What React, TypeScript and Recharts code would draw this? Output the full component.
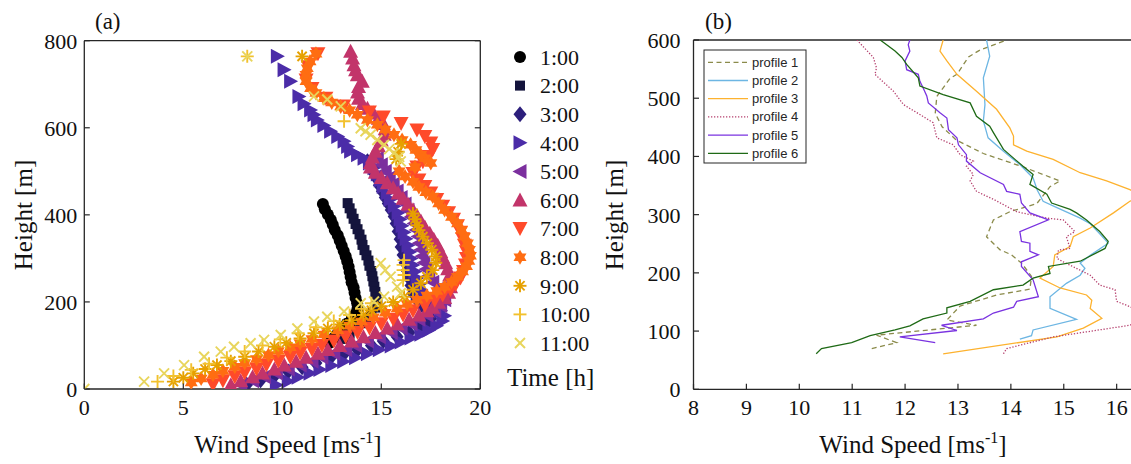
import React from 'react';
import { ScatterChart, Scatter, XAxis, YAxis } from 'recharts';

type Pair = [number, number]; // [height m, wind speed m/s]

// ---------- panel (a): lidar profiles per hour ----------
const hourLabels = ['1:00', '2:00', '3:00', '4:00', '5:00', '6:00', '7:00', '8:00', '9:00', '10:00', '11:00'];

const t01: Pair[] = [[425,12.05],[413,12.15],[401,12.3],[389,12.45],[377,12.55],[365,12.65],[353,12.8],[341,12.9],[329,13.0],[317,13.1],[305,13.2],[293,13.28],[281,13.35],[269,13.4],[257,13.45],[245,13.5],[233,13.6],[221,13.65],[209,13.7],[197,13.78],[185,13.8],[173,13.7],[161,13.5],[150,13.25],[139,13.05],[128,12.8],[117,12.6],[106,12.4]];
const t02: Pair[] = [[427,13.3],[415,13.4],[403,13.5],[391,13.6],[379,13.7],[367,13.8],[355,13.9],[343,14.0],[331,14.05],[319,14.15],[307,14.25],[295,14.35],[283,14.4],[271,14.5],[259,14.55],[247,14.6],[235,14.65],[223,14.7],[211,14.75],[199,14.8],[187,14.7],[175,14.5],[163,14.25],[151,14.0],[139,13.7],[127,13.4],[115,13.1]];
const t03: Pair[] = [[10,8.2],[20,8.9],[30,9.6],[40,10.3],[50,11.0],[60,11.7],[70,12.4],[80,13.1],[90,13.8],[100,14.5],[110,15.1],[120,15.8],[130,16.4],[140,16.9],[150,17.3],[162,17.5],[175,17.4],[190,17.1],[205,16.8],[220,16.6],[238,16.5],[255,16.4],[272,16.3],[290,16.2],[308,16.1],[326,16.0],[344,15.95],[362,15.85],[380,15.75],[396,15.65],[411,15.5],[426,15.35],[440,15.2],[454,15.05],[468,14.9],[482,14.8],[495,14.65],[509,14.5],[523,14.3]];
const t04: Pair[] = [[9,9.7],[18,10.3],[27,10.8],[36,11.4],[45,11.9],[54,12.5],[63,13.1],[72,13.7],[81,14.3],[90,14.9],[99,15.5],[108,16.0],[117,16.5],[126,17.0],[135,17.4],[145,17.8],[156,18.1],[168,18.2],[180,18.0],[192,17.7],[204,17.4],[216,17.2],[228,17.0],[240,16.9],[255,16.8],[270,16.7],[285,16.6],[300,16.5],[315,16.45],[330,16.35],[345,16.25],[360,16.15],[375,16.05],[390,15.95],[405,15.85],[420,15.65],[435,15.45],[450,15.3],[465,15.1],[480,14.95],[494,14.8],[508,14.63],[519,14.4],[530,14.13],[538,13.8],[546,13.45],[557,13.3],[569,13.12],[580,12.8],[592,12.44],[605,12.1],[618,11.77],[630,11.6],[641,11.43],[655,11.1],[672,10.84],[707,10.42],[733,10.09],[764,9.75]];
const t05: Pair[] = [[10,7.9],[19,8.5],[28,9.1],[37,9.7],[46,10.3],[55,10.9],[64,11.5],[73,12.0],[82,12.6],[91,13.2],[100,13.7],[110,14.3],[120,14.9],[130,15.5],[140,16.0],[150,16.5],[160,16.9],[170,17.3],[180,17.7],[192,18.0],[205,18.2],[218,18.1],[231,17.9],[245,17.6],[260,17.4],[275,17.25],[290,17.15],[305,17.05],[320,17.0],[335,16.9],[350,16.85],[365,16.75],[380,16.65],[395,16.5],[410,16.35],[425,16.2],[440,16.0],[455,15.8],[470,15.6],[485,15.4],[500,15.2],[515,15.0],[530,14.8]];
const t06: Pair[] = [[10,7.4],[19,7.9],[28,8.5],[37,9.0],[46,9.6],[55,10.1],[64,10.7],[73,11.2],[82,11.8],[91,12.3],[100,12.9],[110,13.5],[120,14.1],[130,14.7],[140,15.3],[150,15.8],[160,16.4],[170,16.9],[180,17.3],[188,17.6],[199,17.9],[210,18.2],[222,18.4],[235,18.5],[248,18.5],[262,18.45],[276,18.35],[290,18.25],[304,18.1],[316,18.0],[330,17.85],[344,17.65],[358,17.45],[372,17.2],[386,17.0],[399,16.8],[412,16.6],[425,16.35],[438,16.1],[450,15.85],[462,15.6],[474,15.3],[486,15.0],[498,14.7],[510,14.45],[520,14.45],[533,14.55],[546,14.7],[559,14.85],[572,15.0],[585,15.15],[598,15.2],[610,15.1],[622,14.85],[634,14.6],[645,14.3],[656,14.05],[668,13.85],[682,13.8],[695,13.85],[707,14.04],[722,13.79],[733,13.7],[745,13.62],[760,13.55],[776,13.45]];
const t07: Pair[] = [[10,6.5],[19,7.0],[28,7.6],[37,8.1],[46,8.7],[55,9.2],[64,9.8],[73,10.4],[82,10.9],[91,11.5],[100,12.0],[110,12.6],[120,13.2],[130,13.8],[140,14.4],[150,15.0],[160,15.6],[170,16.1],[180,16.6],[192,17.2],[204,17.7],[216,18.1],[228,18.5],[240,18.75],[255,19.0],[270,19.15],[285,19.25],[300,19.3],[315,19.3],[330,19.2],[345,19.1],[360,19.0],[375,18.85],[390,18.65],[405,18.4],[420,18.1],[435,17.8],[450,17.5],[465,17.2],[480,16.9],[495,16.6],[510,16.8],[522,17.1],[534,17.4],[550,17.6],[565,17.5],[580,17.2],[595,16.8],[610,16.0],[625,15.1],[636,14.4],[650,13.1],[668,12.2],[690,11.5],[710,11.2],[740,11.3],[770,11.8]];
const t08: Pair[] = [[15,5.4],[24,5.9],[33,6.5],[42,7.0],[51,7.6],[60,8.1],[69,8.7],[78,9.3],[87,9.8],[96,10.4],[105,10.9],[115,11.5],[125,12.1],[135,12.8],[145,13.4],[155,14.0],[165,14.6],[175,15.2],[185,15.8],[195,16.3],[205,16.8],[215,17.3],[225,17.8],[235,18.2],[246,18.55],[258,18.85],[270,19.1],[282,19.3],[294,19.42],[306,19.5],[320,19.45],[335,19.35],[350,19.2],[365,19.05],[380,18.85],[395,18.55],[411,18.2],[426,17.9],[442,17.6],[452,17.25],[464,16.9],[476,16.6],[488,16.2],[500,15.9],[510,16.7],[519,17.5],[530,17.2],[538,16.99],[549,16.75],[561,16.48],[572,16.05],[584,15.64],[596,15.2],[607,14.8],[618,14.3],[630,13.79],[640,13.4],[649,12.95],[658,12.5],[668,12.1],[680,11.7],[691,11.43],[707,11.2],[722,11.2],[737,11.26],[752,11.4],[770,11.7]];
const t09: Pair[] = [[17,4.5],[26,5.0],[36,5.5],[46,6.1],[55,6.7],[64,7.4],[74,8.1],[86,8.8],[97,9.6],[106,10.2],[116,10.9],[128,11.6],[139,12.3],[148,12.9],[158,13.5],[170,14.1],[181,14.5],[190,15.0],[200,15.6],[212,16.15],[228,16.6],[243,17.0],[258,17.3],[273,17.6],[290,17.75],[304,17.75],[320,17.55],[335,17.33],[350,17.1],[365,16.9],[376,16.8],[390,16.7],[403,16.6],[528,15.75],[545,15.85],[563,16.0],[764,11.0]];
const t10: Pair[] = [[17,3.7],[30,4.5],[44,5.4],[58,6.3],[72,7.2],[86,8.1],[100,9.0],[114,9.9],[128,10.8],[142,11.7],[156,12.6],[170,13.4],[184,14.0],[197,14.5],[250,16.1],[262,16.15],[273,16.1],[285,16.1],[296,16.15],[615,13.12],[764,8.23]];
const t11: Pair[] = [[0,0],[17,3.02],[36,4.03],[55,5.04],[74,6.05],[86,6.89],[97,7.56],[105,8.4],[113,9.08],[124,9.92],[139,10.76],[155,11.6],[166,12.27],[178,13.12],[197,13.96],[201,14.63],[212,15.14],[220,15.98],[235,15.8],[258,15.47],[273,15.2],[289,14.97],[523,15.98],[533,15.9],[542,15.64],[551,15.4],[561,15.14],[572,14.8],[584,14.46],[592,14.2],[599,13.96],[649,12.95],[665,12.27],[672,11.6],[764,8.23]];

const hourData = [t01, t02, t03, t04, t05, t06, t07, t08, t09, t10, t11];

// ---------- panel (b): six profiles ----------
const profileLabels = ['profile 1', 'profile 2', 'profile 3', 'profile 4', 'profile 5', 'profile 6'];

const p1: Pair[] = [[70,11.37],[80,11.84],[93,11.46],[110,13.35],[119,12.79],[143,13.04],[162,13.73],[172,14.36],[194,14.39],[217,14.2],[231,14.01],[240,13.79],[262,13.54],[291,13.67],[305,13.98],[319,14.49],[348,14.74],[358,14.93],[382,14.23],[405,13.48],[428,12.97],[451,12.7],[474,12.57],[503,12.6],[534,12.85],[541,12.98],[571,13.2],[583,13.42],[600,13.92]];
const p2: Pair[] = [[86,14.17],[92,14.39],[102,14.42],[120,15.24],[139,14.74],[159,14.74],[182,15.05],[196,15.31],[208,15.4],[217,15.31],[230,15.5],[251,15.84],[270,15.65],[285,15.49],[294,15.31],[312,14.87],[323,14.61],[342,14.5],[363,14.42],[386,14.17],[409,13.86],[432,13.57],[461,13.48],[489,13.51],[535,13.48],[572,13.6],[600,13.54]];
const p3: Pair[] = [[61,12.72],[90,14.87],[105,15.37],[122,15.72],[139,15.5],[153,15.53],[162,15.43],[174,14.93],[191,14.55],[211,14.8],[231,14.83],[245,15.12],[262,15.18],[277,15.5],[303,15.94],[323,16.25],[333,16.45],[343,16.25],[358,15.81],[372,15.31],[395,14.8],[409,14.3],[420,14.05],[435,14.05],[449,13.98],[481,13.73],[512,13.35],[541,12.98],[564,12.79],[581,12.66],[600,12.72]];
const p4: Pair[] = [[61,13.86],[70,13.92],[90,14.8],[110,16.25],[126,16.6],[142,16.25],[151,16.0],[171,15.97],[179,15.68],[196,15.5],[219,14.99],[225,14.87],[239,14.9],[242,15.12],[262,15.05],[271,15.21],[291,14.99],[294,14.68],[305,14.11],[325,13.7],[340,13.35],[358,13.23],[369,13.29],[383,13.16],[392,13.29],[403,13.04],[420,12.91],[432,12.6],[458,12.53],[472,12.28],[489,11.97],[512,11.78],[541,11.43],[552,11.46],[570,11.4],[600,11.09]];
const p5: Pair[] = [[80,12.57],[90,11.9],[101,12.98],[110,12.69],[121,13.48],[131,13.67],[141,14.05],[151,14.11],[159,14.52],[188,14.42],[211,14.2],[219,14.2],[231,14.52],[237,14.36],[251,14.36],[254,14.2],[271,14.17],[291,14.71],[303,14.36],[320,14.2],[335,14.17],[340,13.92],[352,13.86],[372,13.42],[392,13.16],[403,13.16],[420,13.01],[432,12.98],[446,12.82],[466,12.79],[475,12.66],[492,12.44],[504,12.41],[518,12.34],[529,12.28],[541,12.25],[549,12.03],[564,12.0],[581,12.09],[592,12.06],[600,12.09]];
const p6: Pair[] = [[61,10.32],[70,10.42],[80,10.99],[92,11.34],[102,11.81],[109,12.09],[121,12.34],[131,12.79],[140,12.79],[151,13.23],[171,13.67],[179,14.23],[191,14.42],[199,14.74],[211,14.71],[220,15.31],[242,15.78],[254,15.84],[271,15.68],[291,15.43],[303,15.24],[309,15.12],[320,14.77],[335,14.68],[352,14.36],[369,14.42],[383,14.23],[412,13.86],[441,13.67],[452,13.6],[469,13.35],[492,13.23],[506,12.72],[521,12.28],[535,12.25],[558,12.03],[570,11.94],[581,11.81],[600,11.53]];

const profileData = [p1, p2, p3, p4, p5, p6];

const speedTicksA = [0, 5, 10, 15, 20];
const heightTicksA = [0, 200, 400, 600, 800];
const speedTicksB = [8, 9, 10, 11, 12, 13, 14, 15, 16];
const heightTicksB = [0, 100, 200, 300, 400, 500, 600];

// ---------- styling ----------
const SERIF = '"Liberation Serif", "Times New Roman", serif';
const SANS = '"Liberation Sans", Arial, sans-serif';
const AX = '#262626';
const TXT = '#111';

const hourColors = ['#000000', '#14143c', '#2c1f7c', '#4b2ca8', '#7b2f9e', '#c2346a', '#ff4a2a', '#ff6d12', '#e6a100', '#f2c12e', '#e8d55c'];
const hourShapes = ['circle', 'square', 'diamond', 'right', 'left', 'up', 'down', 'hexagram', 'asterisk', 'plus', 'cross'];
const profileStyles = [
  { stroke: '#8b8b4b', dash: '5 3.5' },
  { stroke: '#6db6e3', dash: undefined },
  { stroke: '#fdb22f', dash: undefined },
  { stroke: '#b5406e', dash: '1.3 1.7' },
  { stroke: '#7a33e0', dash: undefined },
  { stroke: '#1f6a16', dash: undefined },
];

const toPts = (arr: Pair[]) => arr.map(([h, u]) => ({ h, u }));

function Marker({ kind, cx, cy, color }: { kind: string; cx: number; cy: number; color: string }) {
  const poly = (pts: number[][]) => <polygon points={pts.map((p) => `${cx + p[0]},${cy + p[1]}`).join(' ')} fill={color} />;
  const sw = 1.9;
  switch (kind) {
    case 'circle':
      return <circle cx={cx} cy={cy} r={6} fill={color} />;
    case 'square':
      return <rect x={cx - 5} y={cy - 5} width={10} height={10} fill={color} />;
    case 'diamond':
      return poly([[0, -8], [6.5, 0], [0, 8], [-6.5, 0]]);
    case 'right':
      return poly([[7.5, 0], [-6.5, -7.5], [-6.5, 7.5]]);
    case 'left':
      return poly([[-7.5, 0], [6.5, -7.5], [6.5, 7.5]]);
    case 'up':
      return poly([[0, -7.5], [-7.5, 6.5], [7.5, 6.5]]);
    case 'down':
      return poly([[0, 7.5], [-7.5, -6.5], [7.5, -6.5]]);
    case 'hexagram':
      return (
        <g>
          {poly([[0, -7.5], [-6.5, 3.75], [6.5, 3.75]])}
          {poly([[0, 7.5], [-6.5, -3.75], [6.5, -3.75]])}
        </g>
      );
    case 'asterisk':
      return (
        <g stroke={color} strokeWidth={sw}>
          <line x1={cx - 6.5} x2={cx + 6.5} y1={cy} y2={cy} />
          <line x1={cx} x2={cx} y1={cy - 6.5} y2={cy + 6.5} />
          <line x1={cx - 4.6} x2={cx + 4.6} y1={cy - 4.6} y2={cy + 4.6} />
          <line x1={cx - 4.6} x2={cx + 4.6} y1={cy + 4.6} y2={cy - 4.6} />
        </g>
      );
    case 'plus':
      return (
        <g stroke={color} strokeWidth={sw}>
          <line x1={cx - 6.5} x2={cx + 6.5} y1={cy} y2={cy} />
          <line x1={cx} x2={cx} y1={cy - 6.5} y2={cy + 6.5} />
        </g>
      );
    default:
      return (
        <g stroke={color} strokeWidth={sw}>
          <line x1={cx - 5} x2={cx + 5} y1={cy - 5} y2={cy + 5} />
          <line x1={cx - 5} x2={cx + 5} y1={cy + 5} y2={cy - 5} />
        </g>
      );
  }
}

const TL = 5.5; // inward tick length

// with tickSize 0 / tickMargin 0 the tick props sit exactly on the axis line
const bottomTick = (p: any) => (
  <g>
    <line x1={p.x} x2={p.x} y1={p.y} y2={p.y - TL} stroke={AX} strokeWidth={1.2} />
    <text x={p.x} y={p.y + 26} textAnchor="middle" fontFamily={SERIF} fontSize={22} fill={TXT}>
      {p.payload.value}
    </text>
  </g>
);
const leftTick = (gap: number) => (p: any) => (
  <g>
    <line x1={p.x} x2={p.x + TL} y1={p.y} y2={p.y} stroke={AX} strokeWidth={1.2} />
    <text x={p.x - gap} y={p.y} dy="0.36em" textAnchor="end" fontFamily={SERIF} fontSize={22} fill={TXT}>
      {p.payload.value}
    </text>
  </g>
);
const topTick = (p: any) => <line x1={p.x} x2={p.x} y1={p.y} y2={p.y + TL} stroke={AX} strokeWidth={1.2} />;
const rightTick = (p: any) => <line x1={p.x} x2={p.x - TL} y1={p.y} y2={p.y} stroke={AX} strokeWidth={1.2} />;

const axisLine = { stroke: AX, strokeWidth: 1.3 };

// plot box (a): x 84.3..480.3, y 40.7..389
function PanelA() {
  return (
    <ScatterChart width={500} height={464} margin={{ top: 30.7, right: 9.7, bottom: 45, left: 44.3 }}>
      <XAxis dataKey="u" type="number" domain={[0, 20]} ticks={speedTicksA} interval={0} height={30} tickSize={0} tickMargin={0} axisLine={axisLine} tick={bottomTick} allowDataOverflow />
      <XAxis xAxisId="top" orientation="top" type="number" domain={[0, 20]} ticks={speedTicksA} interval={0} height={10} tickSize={0} tickMargin={0} axisLine={axisLine} tick={topTick} allowDataOverflow />
      <YAxis dataKey="h" type="number" domain={[0, 800]} ticks={heightTicksA} interval={0} width={40} tickSize={0} tickMargin={0} axisLine={axisLine} tick={leftTick(7)} allowDataOverflow />
      <YAxis yAxisId="right" orientation="right" type="number" domain={[0, 800]} ticks={heightTicksA} interval={0} width={10} tickSize={0} tickMargin={0} axisLine={axisLine} tick={rightTick} allowDataOverflow />
      {hourData.map((d, i) => (
        <Scatter
          key={hourLabels[i]}
          name={hourLabels[i]}
          data={toPts(d)}
          fill={hourColors[i]}
          isAnimationActive={false}
          shape={(p: any) => <Marker kind={hourShapes[i]} cx={p.cx} cy={p.cy} color={hourColors[i]} />}
        />
      ))}
    </ScatterChart>
  );
}

// plot box (b): x 693.5..1132, y 40..389.3 (right edge falls outside the picture)
function PanelB() {
  return (
    <ScatterChart width={600} height={464} margin={{ top: 30, right: 28, bottom: 44.7, left: 93.5 }}>
      <XAxis dataKey="u" type="number" domain={[8, 16.29]} ticks={speedTicksB} interval={0} height={30} tickSize={0} tickMargin={0} axisLine={axisLine} tick={bottomTick} allowDataOverflow />
      <XAxis xAxisId="top" orientation="top" type="number" domain={[8, 16.29]} ticks={speedTicksB} interval={0} height={10} tickSize={0} tickMargin={0} axisLine={axisLine} tick={topTick} allowDataOverflow />
      <YAxis dataKey="h" type="number" domain={[0, 600]} ticks={heightTicksB} interval={0} width={40} tickSize={0} tickMargin={0} axisLine={axisLine} tick={leftTick(13)} allowDataOverflow />
      {profileData.map((d, i) => (
        <Scatter
          key={profileLabels[i]}
          name={profileLabels[i]}
          data={toPts(d)}
          fill={profileStyles[i].stroke}
          line={{ stroke: profileStyles[i].stroke, strokeWidth: 1.3, strokeDasharray: profileStyles[i].dash }}
          shape={() => <g />}
          isAnimationActive={false}
        />
      ))}
    </ScatterChart>
  );
}

function Overlay() {
  return (
    <svg width={1131} height={464} style={{ position: 'absolute', left: 0, top: 0, pointerEvents: 'none' }}>
      <g fontFamily={SERIF} fill={TXT}>
        <text x={95} y={29} fontSize={23}>(a)</text>
        <text x={705} y={29} fontSize={23}>(b)</text>
        <text transform="translate(32,215) rotate(-90)" textAnchor="middle" fontSize={25}>Height [m]</text>
        <text transform="translate(623,215) rotate(-90)" textAnchor="middle" fontSize={25}>Height [m]</text>
        <text x={288} y={453} textAnchor="middle" fontSize={25}>
          Wind Speed [ms<tspan dy={-10} fontSize={16}>-1</tspan><tspan dy={10}>]</tspan>
        </text>
        <text x={913} y={453} textAnchor="middle" fontSize={25}>
          Wind Speed [ms<tspan dy={-10} fontSize={16}>-1</tspan><tspan dy={10}>]</tspan>
        </text>
        {hourLabels.map((lab, i) => (
          <g key={lab}>
            <Marker kind={hourShapes[i]} cx={520} cy={57 + i * 28.6} color={hourColors[i]} />
            <text x={540} y={57 + i * 28.6} dy="0.35em" fontSize={22}>{lab}</text>
          </g>
        ))}
        <text x={507} y={386} fontSize={25}>Time [h]</text>
      </g>
      <g>
        <rect x={704} y={50} width={102} height={113} fill="#fff" stroke={AX} strokeWidth={1} />
        {profileLabels.map((lab, i) => (
          <g key={lab}>
            <line x1={708} x2={748} y1={62.3 + i * 18.2} y2={62.3 + i * 18.2} stroke={profileStyles[i].stroke} strokeWidth={1.3} strokeDasharray={profileStyles[i].dash} />
            <text x={752} y={62.3 + i * 18.2} dy="0.35em" fontFamily={SANS} fontSize={13} fill={AX}>{lab}</text>
          </g>
        ))}
      </g>
    </svg>
  );
}

export default function App() {
  return (
    <div style={{ position: 'absolute', left: 0, top: 0, width: 1131, height: 464, overflow: 'hidden', background: '#fff' }}>
      <div style={{ position: 'absolute', left: 0, top: 0 }}>
        <PanelA />
      </div>
      <div style={{ position: 'absolute', left: 560, top: 0 }}>
        <PanelB />
      </div>
      <Overlay />
    </div>
  );
}
